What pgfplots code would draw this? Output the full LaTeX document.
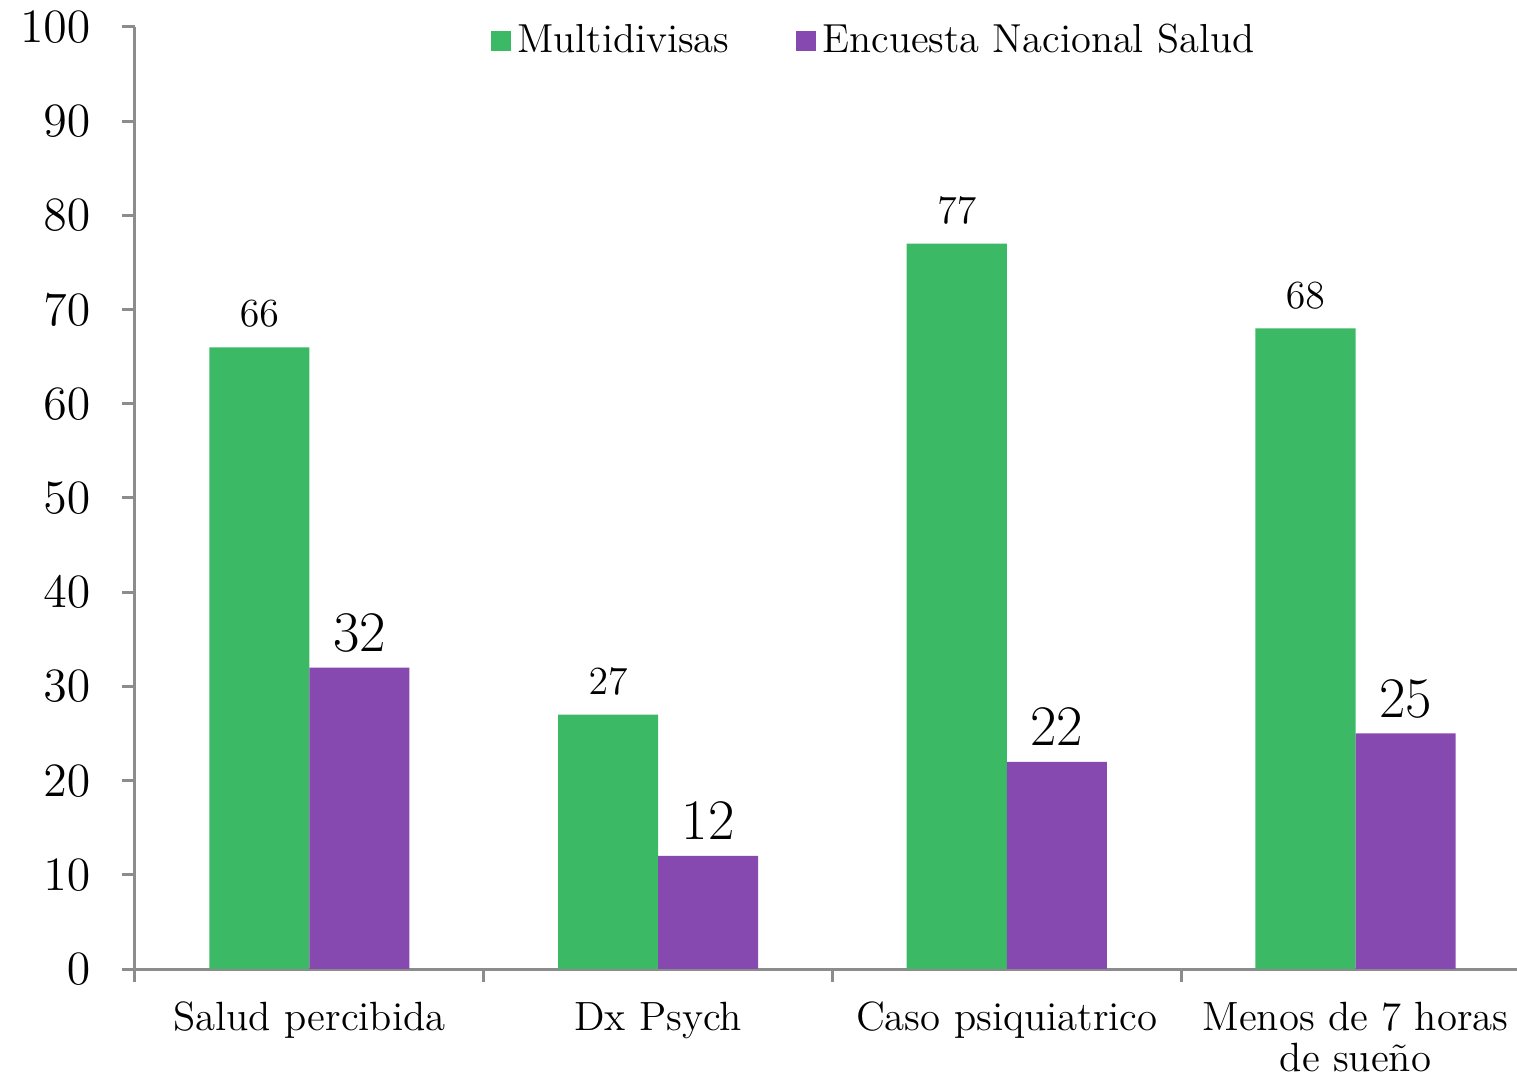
\documentclass[border=0pt]{standalone}
\usepackage{pgfplots}
\pgfplotsset{compat=1.18}
\definecolor{cgreen}{RGB}{60,185,100}
\definecolor{cpurple}{RGB}{133,73,175}
\definecolor{caxis}{RGB}{140,140,140}
\begin{document}
\begin{tikzpicture}
\useasboundingbox (-40.5bp,-32.7bp) rectangle (414.6bp,290.7bp);
\begin{axis}[
  scale only axis,
  width=414.6bp, height=282.6bp,
  xmin=-0.5, xmax=3.463,
  ymin=0, ymax=100,
  ybar=0pt, bar width=0.287,
  axis x line*=bottom, axis y line*=left,
  axis line style={caxis, line width=0.9bp},
  every tick/.style={caxis, line width=0.9bp},
  tick align=outside,
  major tick length=3.9bp,
  ytick={0,10,...,100},
  xtick={0,1,2,3},
  xticklabels={Salud percibida, Dx Psych, Caso psiquiatrico, {Menos de 7 horas\\de sue\~no}},
  x tick style={draw=none},
  minor xtick={-0.5,0.5,1.5,2.5},
  minor x tick style={draw=caxis, line width=0.9bp},
  minor tick length=3.9bp,
  yticklabel style={font=\fontsize{15.4}{18}\selectfont, xshift=-6bp},
  xticklabel style={font=\fontsize{12.3}{12.6}\selectfont, align=center, yshift=-2.4bp},
  legend style={draw=none, at={(0.536,0.985)}, anchor=center, font=\fontsize{12.2}{14}\selectfont, legend columns=2, /tikz/every even column/.append style={column sep=18bp}},
  legend image code/.code={\fill[#1] (0bp,-3bp) rectangle (6bp,3bp);},
]
\addplot[fill=cgreen, draw=none, nodes near coords,
  every node near coord/.append style={font=\fontsize{11.7}{12}\selectfont, yshift=2.6bp, black}]
  coordinates {(0,66) (1,27) (2,77) (3,68)};
\addlegendentry{Multidivisas}
\addplot[fill=cpurple, draw=none, nodes near coords,
  every node near coord/.append style={font=\fontsize{16}{18}\selectfont, yshift=1.4bp, black}]
  coordinates {(0,32) (1,12) (2,22) (3,25)};
\addlegendentry{Encuesta Nacional Salud}
\end{axis}
\end{tikzpicture}
\end{document}
